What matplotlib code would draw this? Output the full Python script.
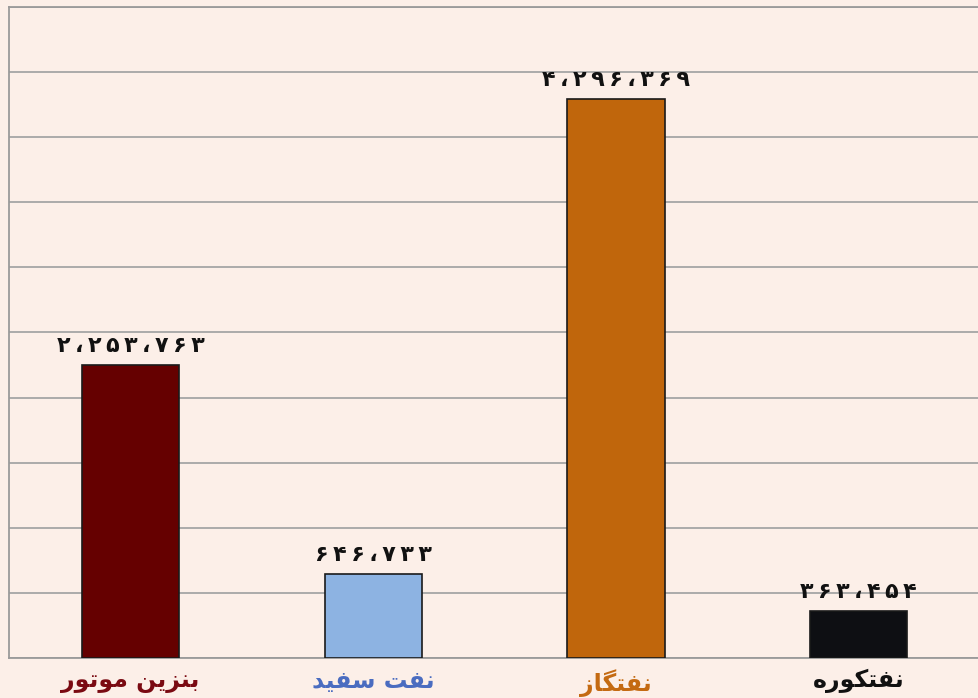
import matplotlib.pyplot as plt
import numpy as np

plt.rcParams['font.family'] = ['DejaVu Sans']

# Data
categories = ['بنزین موتور', 'نفت سفید', 'نفتگاز', 'نفتکوره']
values = [2253763, 646733, 4296369, 363454]
bar_colors = ['#650000', '#8db3e2', '#c0660c', '#0e0f13']
label_colors = ['#7a0a12', '#4a6cc0', '#c46a12', '#111111']

# Minimal Arabic/Persian shaping (matplotlib renders glyphs unjoined, left to right)
FORMS = {
    'ب': ('\ufe8f', '\ufe90', '\ufe91', '\ufe92'),
    'ت': ('\ufe95', '\ufe96', '\ufe97', '\ufe98'),
    'د': ('\ufea9', '\ufeaa', None, None),
    'ر': ('\ufead', '\ufeae', None, None),
    'ز': ('\ufeaf', '\ufeb0', None, None),
    'س': ('\ufeb1', '\ufeb2', '\ufeb3', '\ufeb4'),
    'ف': ('\ufed1', '\ufed2', '\ufed3', '\ufed4'),
    'م': ('\ufee1', '\ufee2', '\ufee3', '\ufee4'),
    'ن': ('\ufee5', '\ufee6', '\ufee7', '\ufee8'),
    'ه': ('\ufee9', '\ufeea', '\ufeeb', '\ufeec'),
    'و': ('\ufeed', '\ufeee', None, None),
    'ا': ('\ufe8d', '\ufe8e', None, None),
    'ی': ('\ufef1', '\ufef2', '\ufef3', '\ufef4'),
    'ک': ('\ufb8e', '\ufb8f', '\ufb90', '\ufb91'),
    'گ': ('\ufb92', '\ufb93', '\ufb94', '\ufb95'),
}


def shape(text):
    out = []
    for i, ch in enumerate(text):
        if ch not in FORMS:
            out.append(ch)
            continue
        prev = text[i - 1] if i > 0 else ''
        nxt = text[i + 1] if i + 1 < len(text) else ''
        # joins from previous letter if previous is dual-joining
        join_prev = prev in FORMS and FORMS[prev][2] is not None
        join_next = nxt in FORMS and FORMS[ch][2] is not None
        iso, fin, ini, med = FORMS[ch]
        if join_prev and join_next:
            out.append(med)
        elif join_prev:
            out.append(fin)
        elif join_next:
            out.append(ini)
        else:
            out.append(iso)
    return ''.join(reversed(out))


def persian_number(n):
    digits = '۰۱۲۳۴۵۶۷۸۹'
    s = f'{n:,}'
    chars = [digits[int(c)] if c.isdigit() else '،' for c in s]
    return '\u2009'.join(chars)


bg = '#fcefe8'
fig = plt.figure(figsize=(9.79, 6.98), dpi=100, facecolor=bg)
ax = fig.add_axes([0.0092, 0.0573, 0.992, 0.9327], facecolor=bg)

x = np.arange(len(categories))
bars = ax.bar(x, values, width=0.4, color=bar_colors, edgecolor='#1a1a1a', linewidth=1.2, zorder=3)

for bar, v in zip(bars, values):
    ax.annotate(persian_number(v), (bar.get_x() + bar.get_width() / 2, bar.get_height()),
                xytext=(0, 6), textcoords='offset points', ha='center', va='bottom',
                fontsize=16, fontweight='bold', color='#111111')

ax.set_xlim(-0.5, 3.5)
ax.set_ylim(0, 5000000)
ax.set_yticks(np.arange(0, 5000001, 500000))
ax.set_yticklabels([])
ax.tick_params(axis='y', length=0)
ax.grid(True, axis='y', color='#a5a5a5', linewidth=1.3, zorder=0)

ax.set_xticks(x)
ax.set_xticklabels([shape(c) for c in categories], fontsize=17, fontweight='bold')
for lbl, c in zip(ax.get_xticklabels(), label_colors):
    lbl.set_color(c)
ax.tick_params(axis='x', length=0, pad=8)

for s in ['left', 'bottom', 'top']:
    ax.spines[s].set_color('#9a9a9a')
    ax.spines[s].set_linewidth(1.3)
ax.spines['right'].set_visible(False)

plt.savefig('out.png', dpi=100, facecolor=bg)
